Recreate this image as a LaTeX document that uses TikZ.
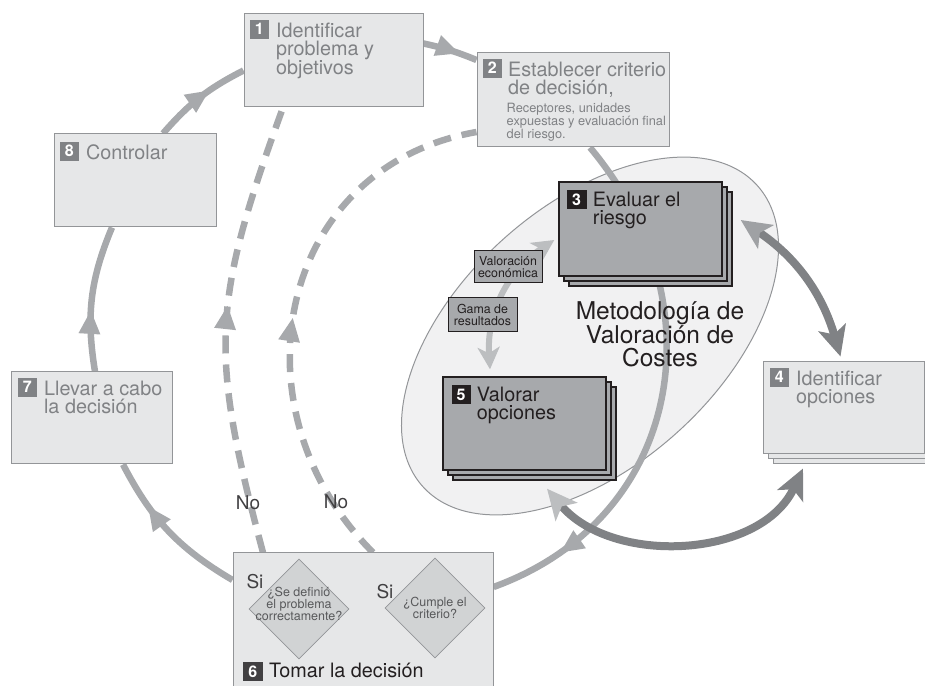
\documentclass[tikz,border=0pt]{standalone}
\usepackage{fontspec}
\setmainfont{TeX Gyre Heros}
\usetikzlibrary{arrows.meta,shapes.geometric,shadows,decorations.markings}
\pgfdeclarelayer{bg}
\pgfsetlayers{bg,main}

\definecolor{boxfill}{HTML}{E6E7E8}
\definecolor{boxline}{HTML}{939598}
\definecolor{titlegray}{HTML}{808285}
\definecolor{darkfill}{HTML}{A7A9AC}
\definecolor{inkblack}{HTML}{231F20}
\definecolor{loopgray}{HTML}{A7A9AC}
\definecolor{litearrow}{HTML}{BCBEC0}
\definecolor{midarrow}{HTML}{9FA1A4}
\definecolor{darkarrow}{HTML}{808285}
\definecolor{ellfill}{HTML}{F1F1F2}
\definecolor{diamfill}{HTML}{D1D3D4}
\definecolor{sigray}{HTML}{414042}
\definecolor{qgray}{HTML}{58595B}

\begin{document}
\begin{tikzpicture}[x=1pt,y=1pt,
  litebox/.style={rectangle, draw=boxline, fill=boxfill, line width=1pt, inner sep=0pt},
  darkbox/.style={rectangle, draw=inkblack, fill=darkfill, line width=1.4pt, inner sep=0pt},
  stack/.style={double copy shadow={shadow xshift=5pt, shadow yshift=-5pt}},
  numtag/.style={rectangle, anchor=north west, inner sep=0pt, minimum width=19, minimum height=19, fill=titlegray, text=white, font=\fontsize{16}{16}\selectfont\bfseries},
  ttl/.style={anchor=north west, inner sep=0pt, align=left, text=titlegray, font=\fontsize{19.8}{18}\selectfont},
  ttldark/.style={ttl, text=inkblack},
  note/.style={anchor=north west, inner sep=0pt, align=left, text=titlegray, font=\fontsize{12.8}{11}\selectfont},
  smalltag/.style={rectangle, draw=inkblack, fill=darkfill, line width=1pt, inner sep=0pt, align=center, text=inkblack, font=\fontsize{12.4}{12.5}\selectfont},
  diam/.style={diamond, draw=boxline, fill=diamfill, line width=0.8pt, minimum width=100, minimum height=100, inner sep=0pt},
  qtext/.style={inner sep=0pt, align=center, text=qgray, font=\fontsize{12.5}{12}\selectfont},
  silab/.style={inner sep=0pt, text=sigray, font=\fontsize{19}{19}\selectfont},
  cycline/.style={draw=loopgray, line width=6.5pt, postaction={decorate, decoration={markings, mark=at position #1 with {\arrow{Triangle[length=24pt,width=20pt]}}}}},
  noline/.style={cycline=#1, dash pattern=on 18pt off 11pt},
  dblarrow/.style={draw=darkarrow, line width=8pt, arrows={Stealth[length=30pt,width=28pt,inset=7pt,color=#1]-Stealth[length=30pt,width=28pt,inset=7pt]}},
  innerarrow/.style={draw=litearrow, line width=6pt, arrows={Stealth[length=22pt,width=22pt,inset=6pt]-Stealth[length=22pt,width=22pt,inset=6pt]}}]

\useasboundingbox (0,0) rectangle (925,685);

\begin{pgfonlayer}{bg}
\node[ellipse, draw=boxline, fill=ellfill, line width=1pt, minimum width=450, minimum height=260, inner sep=0pt, rotate=42] (mvc) at (590,349) {};
\end{pgfonlayer}

\node[litebox, minimum width=179, minimum height=93] (b1) at (333.5,624.5) {};
\node[litebox, minimum width=192, minimum height=94] (b2) at (573,585) {};
\node[darkbox, stack, minimum width=163, minimum height=94] (b3) at (640.5,456) {};
\node[litebox, stack, minimum width=161, minimum height=92] (b4) at (843.5,277) {};
\node[darkbox, stack, minimum width=163, minimum height=93] (b5) at (524.5,261.5) {};
\node[litebox, minimum width=260, minimum height=137] (b6) at (363,63.5) {};
\node[litebox, minimum width=161, minimum height=92] (b7) at (91.5,267) {};
\node[litebox, minimum width=162, minimum height=93] (b8) at (135,504.5) {};

\node[numtag] (k1) at ([shift={(6,-6)}]b1.north west) {1};
\node[ttl] (t1) at ([shift={(7,-3)}]k1.north east) {Identificar\\problema y\\objetivos};
\node[numtag] (k2) at ([shift={(6,-6)}]b2.north west) {2};
\node[ttl] (t2) at ([shift={(6,-3)}]k2.north east) {Establecer criterio\\de decisión,};
\node[note] (n2) at ([shift={(30,-50.2)}]b2.north west) {Receptores, unidades\\expuestas y evaluación final\\del riesgo.};
\node[numtag, fill=inkblack, minimum width=20] (k3) at ([shift={(8,-9)}]b3.north west) {3};
\node[ttldark] (t3) at ([shift={(6,-2)}]k3.north east) {Evaluar el\\riesgo};
\node[numtag] (k4) at ([shift={(7,-6)}]b4.north west) {4};
\node[ttl] (t4) at ([shift={(7,-3)}]k4.north east) {Identificar\\opciones};
\node[numtag, fill=inkblack] (k5) at ([shift={(9,-9)}]b5.north west) {5};
\node[ttldark] (t5) at ([shift={(6,-2)}]k5.north east) {Valorar\\opciones};
\node[numtag, fill=sigray, anchor=south west, minimum width=20] (k6) at ([shift={(10,9.5)}]b6.south west) {6};
\node[ttldark, anchor=base west] (t6) at ([shift={(6,3.5)}]k6.south east) {Tomar la decisión};
\node[numtag] (k7) at ([shift={(7,-6)}]b7.north west) {7};
\node[ttl] (t7) at ([shift={(7,-3)}]k7.north east) {Llevar a cabo\\la decisión};
\node[numtag] (k8) at ([shift={(6,-8)}]b8.north west) {8};
\node[ttl] (t8) at ([shift={(7,-3)}]k8.north east) {Controlar};

\node[diam] (d1) at (299,76) {};
\node[diam] (d2) at (435,77) {};
\node[qtext] (q1) at ([yshift=5]d1.center) {¿Se definió\\el problema\\correctamente?};
\node[qtext] (q2) at (d2.center) {¿Cumple el\\criterio?};

\begin{pgfonlayer}{bg}
\draw[cycline=0.62] ([xshift=28]b8.north) to[bend left=11] ([yshift=-10]b1.west);
\draw[cycline=0.68] ([yshift=17]b1.east) to[bend left=5] ([yshift=40]b2.west);
\draw[cycline=0.86] ([xshift=17]b2.south) to[out=-50, in=20, looseness=1.15] ([yshift=34.5]b6.east);
\draw[cycline=0.7] ([yshift=41.5]b6.west) to[bend left=16] ([xshift=31.5]b7.south);
\draw[cycline=0.42] ([xshift=3.5]b7.north) to[bend left=16] ([xshift=-23]b8.south);
\draw[noline=0.55] ([xshift=-100]b6.north) to[out=105, in=250, looseness=1.2] ([xshift=-50.5]b1.south);
\draw[noline=0.48] ([xshift=10]b6.north) to[out=135, in=190, looseness=1.2] ([yshift=-32]b2.west);
\end{pgfonlayer}

\draw[innerarrow] ([shift={(-34.5,7)}]b5.north) to[bend left=30] ([shift={(-4,-11)}]b3.west);
\node[smalltag, minimum width=68, minimum height=32] (val) at (508,418) {Valoración\\económica};
\node[smalltag, minimum width=69, minimum height=34] (gama) at (482.5,370) {Gama de\\resultados};

\draw[dblarrow=midarrow] ([shift={(18,9)}]b3.east) to[bend left=20] ([shift={(-3,5)}]b4.north);
\draw[dblarrow=litearrow] ([shift={(22.5,-18)}]b5.south) to[out=-50, in=245] ([shift={(-40.5,-14)}]b4.south);

\node[align=center, inner sep=0pt, text=inkblack, font=\fontsize{24.5}{23.5}\selectfont] (mvct) at (660,350.5) {Metodología de\\Valoración de\\Costes};

\node[silab] (si1) at (255,103) {Si};
\node[silab] (si2) at (385,93) {Si};
\node[silab] (no1) at (248,182) {No};
\node[silab] (no2) at (336,183) {No};

\end{tikzpicture}
\end{document}
